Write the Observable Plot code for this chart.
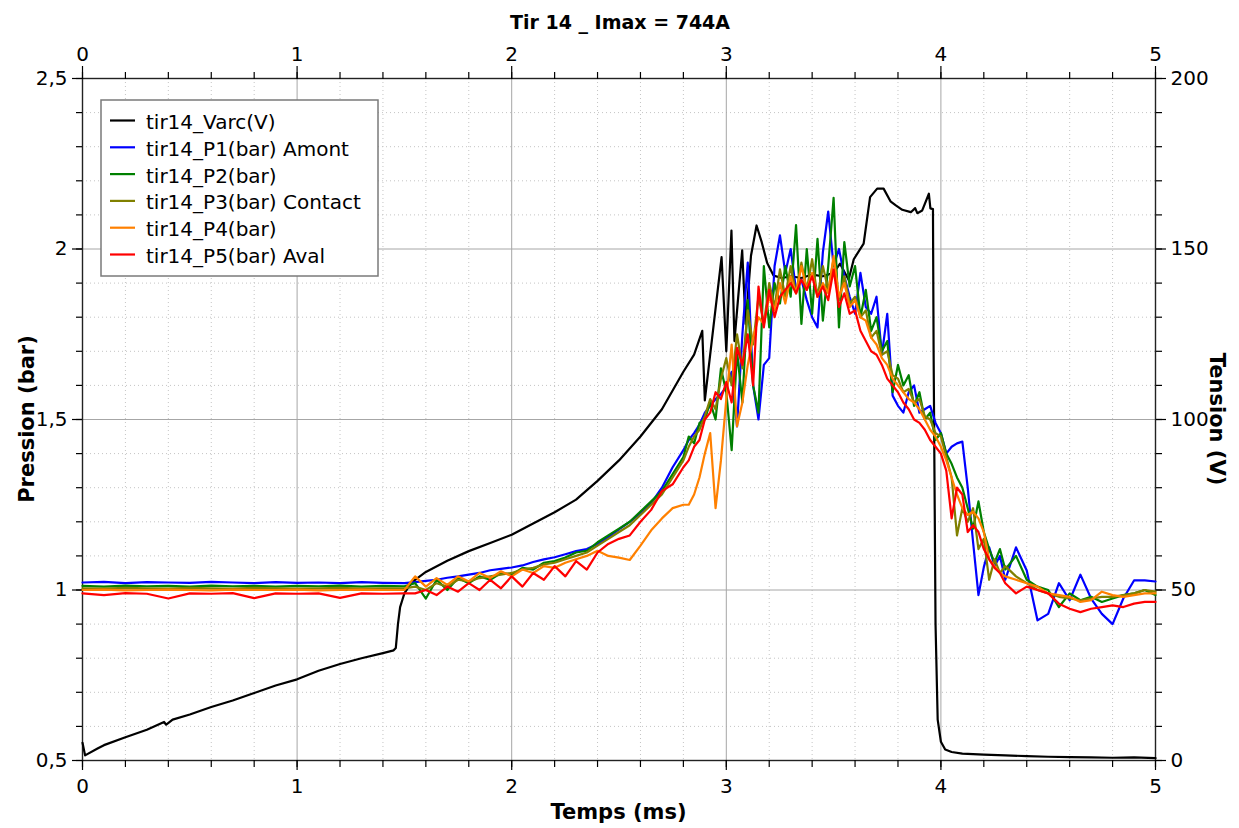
<!DOCTYPE html>
<html><head><meta charset="utf-8">
<script src="https://cdn.jsdelivr.net/npm/d3@7"></script>
<script src="https://cdn.jsdelivr.net/npm/@observablehq/plot@0.6"></script>
<style>
html,body{margin:0;padding:0;background:#fff;}
#chart{position:relative;width:1239px;height:828px;}
</style></head><body><div id="chart"></div>
<script>
// ---- Data ----
const titleText = "Tir 14 _ Imax = 744A";
const xLabel = "Temps (ms)";
const yLabelLeft = "Pression (bar)";
const yLabelRight = "Tension (V)";

const xTicks = [0, 1, 2, 3, 4, 5];
const yTicksLeft = [0.5, 1, 1.5, 2, 2.5];
const yTickLabelsLeft = ["0,5", "1", "1,5", "2", "2,5"];
const yTickLabelsRight = ["0", "50", "100", "150", "200"];

const seriesNames = ["tir14_Varc(V)", "tir14_P1(bar) Amont", "tir14_P2(bar)", "tir14_P3(bar) Contact", "tir14_P4(bar)", "tir14_P5(bar) Aval"];
const seriesColors = ["#000000", "#0000ff", "#008000", "#808000", "#ff8000", "#ff0000"];

// arc voltage (V), own time base (ms)
const tV = [0,0.004,0.012,0.07,0.1,0.2,0.3,0.38,0.39,0.42,0.5,0.6,0.7,0.8,0.9,1.0,1.1,1.2,1.3,1.4,1.45,1.46,1.47,1.48,1.49,1.5,1.52,1.55,1.6,1.7,1.8,1.9,2.0,2.1,2.2,2.3,2.4,2.5,2.6,2.7,2.8,2.85,2.888,2.9,2.978,3.0,3.024,3.038,3.074,3.09,3.115,3.141,3.165,3.19,3.22,3.26,3.3,3.35,3.4,3.45,3.5,3.53,3.57,3.594,3.64,3.67,3.703,3.733,3.765,3.79,3.82,3.86,3.88,3.89,3.913,3.944,3.951,3.963,3.966,3.975,3.985,4.0,4.02,4.05,4.1,4.2,4.3,4.4,4.5,4.6,4.7,4.8,4.9,5.0];
const varc = [5.2,4.0,1.5,3.5,4.5,6.8,9.0,11.3,10.5,12.0,13.5,15.7,17.6,19.8,22.0,23.8,26.3,28.3,30.0,31.5,32.3,33.0,40,45,47,49,51,53,55.3,58.6,61.4,63.8,66.2,69.5,72.8,76.5,82,88,95,103,114,119,126,105.6,147.6,120,155.4,123,149.6,128,148,156.9,152,146,142.2,141.5,142,141.5,142.5,142,143,145.7,141,147,151.6,165.2,167.7,167.7,164,162.8,161.5,160.8,162,160.5,161.3,166.2,161.9,161.7,120,40,12,5.5,3.2,2.5,2.0,1.7,1.5,1.3,1.1,1.0,0.9,0.8,0.9,0.7];

// pressure time base (ms): 0..1.5 by 0.1, 1.55..2.8 by 0.05, 2.825..4.3 by 0.025, 4.35..5 by 0.05
const tP = [].concat(
  d3.range(0, 16).map(i => i * 0.1),
  d3.range(1, 27).map(i => 1.5 + i * 0.05),
  d3.range(1, 61).map(i => 2.8 + i * 0.025),
  d3.range(1, 15).map(i => 4.3 + i * 0.05)
).map(v => +v.toFixed(3));

const p1 = [
  1.022,1.024,1.02,1.023,1.022,1.021,1.024,1.022,1.02,1.023,1.021,1.022,1.02,1.023,1.021,1.02,
  1.023,1.027,1.03,1.036,1.04,1.045,1.05,1.058,1.062,1.066,1.072,1.082,1.09,1.096,1.105,1.114,1.12,1.135,1.155,1.178,1.2,1.225,1.255,1.3,1.36,1.41,
  1.44,1.46,1.485,1.52,1.54,1.56,1.575,1.595,1.64,1.48,
  1.75,1.96,1.60,1.50,1.66,1.68,1.95,2.04,1.93,2.0,
  1.88,1.91,1.85,1.80,1.77,1.99,2.11,1.95,2.0,1.92,
  1.86,1.81,1.93,1.83,1.81,1.86,1.69,1.81,1.57,1.54,
  1.52,1.58,1.60,1.52,1.53,1.54,1.49,1.46,1.40,1.42,
  1.43,1.435,1.30,1.14,0.985,1.067,1.125,1.07,1.10,1.03,
  1.125,1.057,0.911,0.93,1.02,0.97,1.045,0.975,0.93,0.9,0.975,1.028,1.028,1.025
];
const p2 = [
  1.012,1.01,1.013,1.011,1.012,1.01,1.013,1.011,1.012,1.01,1.012,1.011,1.013,1.01,1.012,1.011,
  1.02,0.975,1.03,1.0,1.035,1.02,1.04,1.03,1.05,1.045,1.065,1.06,1.08,1.085,1.095,1.11,1.115,1.14,1.16,1.18,1.2,1.23,1.26,1.29,1.34,1.39,
  1.45,1.43,1.49,1.50,1.55,1.50,1.65,1.58,1.41,1.70,
  1.55,1.85,1.60,1.52,1.95,1.77,1.90,1.84,1.95,1.86,
  2.07,1.78,2.0,1.81,2.03,1.79,1.95,2.15,1.77,2.02,
  1.89,1.95,1.80,1.88,1.76,1.80,1.70,1.73,1.58,1.66,
  1.60,1.63,1.54,1.58,1.50,1.52,1.44,1.46,1.40,1.37,
  1.33,1.30,1.24,1.18,1.26,1.17,1.12,1.08,1.12,1.06,
  1.10,1.03,1.01,1.0,0.95,0.99,0.97,0.98,0.965,0.975,0.985,0.99,1.0,0.985
];
const p3 = [
  1.005,1.004,1.006,1.005,1.004,1.006,1.005,1.004,1.006,1.005,1.004,1.005,1.006,1.004,1.005,1.005,
  1.01,1.0,1.02,1.01,1.03,1.025,1.035,1.04,1.045,1.05,1.06,1.065,1.075,1.08,1.09,1.1,1.11,1.13,1.15,1.17,1.19,1.22,1.25,1.28,1.33,1.38,
  1.42,1.45,1.47,1.51,1.56,1.53,1.62,1.68,1.60,1.75,
  1.65,1.82,1.72,1.86,1.78,1.90,1.83,1.94,1.86,1.95,
  1.87,1.96,1.88,1.97,1.86,1.95,1.88,1.97,1.85,1.92,
  1.84,1.86,1.80,1.82,1.74,1.76,1.69,1.70,1.63,1.62,
  1.58,1.59,1.55,1.56,1.51,1.50,1.46,1.45,1.39,1.33,
  1.16,1.24,1.20,1.24,1.12,1.15,1.03,1.09,1.05,1.07,
  1.04,1.02,1.0,0.99,0.98,0.975,0.97,0.975,0.98,0.98,0.985,0.99,1.0,0.995
];
const p4 = [
  1.0,1.001,0.999,1.0,1.001,1.0,0.999,1.001,1.0,1.0,1.001,0.999,1.0,1.001,1.0,1.0,
  1.04,1.01,1.035,1.015,1.04,1.025,1.05,1.035,1.055,1.04,1.06,1.05,1.07,1.065,1.08,1.09,1.1,1.115,1.1,1.095,1.088,1.13,1.175,1.21,1.24,1.25,
  1.25,1.28,1.33,1.40,1.46,1.24,1.38,1.56,1.72,1.48,
  1.55,1.66,1.74,1.80,1.78,1.86,1.82,1.90,1.84,1.92,
  1.87,1.95,1.88,1.93,1.86,1.90,1.87,1.98,1.86,1.90,
  1.83,1.85,1.80,1.79,1.74,1.72,1.68,1.66,1.62,1.60,
  1.58,1.56,1.55,1.53,1.50,1.47,1.45,1.42,1.38,1.33,
  1.28,1.24,1.22,1.23,1.21,1.17,1.09,1.07,1.05,1.04,
  1.03,1.02,1.01,0.99,0.985,0.98,0.965,0.97,0.995,0.985,0.98,0.985,0.99,0.99
];
const p5 = [
  0.99,0.985,0.991,0.989,0.975,0.99,0.989,0.991,0.976,0.99,0.989,0.99,0.977,0.99,0.989,0.99,
  0.99,1.0,0.985,1.01,0.995,1.02,1.0,1.03,1.005,1.04,1.01,1.05,1.03,1.07,1.04,1.085,1.06,1.11,1.135,1.15,1.16,1.2,1.235,1.29,1.31,1.36,
  1.38,1.42,1.44,1.50,1.52,1.58,1.56,1.61,1.55,1.71,
  1.66,1.75,1.60,1.89,1.77,1.88,1.80,1.86,1.88,1.90,
  1.87,1.91,1.88,1.92,1.86,1.89,1.85,1.94,1.83,1.87,
  1.81,1.82,1.76,1.73,1.70,1.69,1.66,1.62,1.60,1.58,
  1.55,1.53,1.50,1.49,1.47,1.44,1.42,1.40,1.35,1.21,
  1.30,1.28,1.17,1.19,1.17,1.12,1.09,1.065,1.05,1.02,
  0.99,1.01,1.0,0.99,0.96,0.945,0.935,0.945,0.95,0.955,0.95,0.96,0.965,0.965
];
const pressureSeries = [p1, p2, p3, p4, p5];

// ---- Build tables ----
const toLeft = v => 0.5 + v / 100; // right axis 0..200 V  <->  left 0.5..2.5 bar
const varcRows = tV.map((t, i) => ({t, y: toLeft(varc[i])}));
const pRows = [];
pressureSeries.forEach((arr, s) => arr.forEach((p, i) => pRows.push({t: tP[i], p, series: seriesNames[s + 1]})));

const minorX = d3.range(0, 26).map(i => +(i * 0.2).toFixed(1));
const minorY = d3.range(0, 21).map(i => +(0.5 + i * 0.1).toFixed(1));
const minorXgrid = minorX.filter(v => !xTicks.includes(v));
const minorYgrid = minorY.filter(v => !yTicksLeft.includes(v));

const axisStyle = {stroke: "#000", strokeWidth: 1.2, label: null};

const plot = Plot.plot({
  width: 1239, height: 828,
  marginLeft: 82, marginRight: 84, marginTop: 78, marginBottom: 68,
  style: {fontFamily: "'DejaVu Sans', Verdana, sans-serif", fontSize: "20px", background: "#fff", color: "#000"},
  x: {domain: [0, 5]},
  y: {domain: [0.5, 2.5]},
  color: {domain: seriesNames.slice(1), range: seriesColors.slice(1)},
  marks: [
    Plot.gridX({ticks: minorXgrid, stroke: "#c4c4c4", strokeOpacity: 1, strokeDasharray: "1,3"}),
    Plot.gridY({ticks: minorYgrid, stroke: "#c4c4c4", strokeOpacity: 1, strokeDasharray: "1,3"}),
    Plot.gridX({ticks: [1, 2, 3, 4], stroke: "#a6a6a6", strokeOpacity: 1}),
    Plot.gridY({ticks: [1, 1.5, 2], stroke: "#a6a6a6", strokeOpacity: 1}),
    Plot.frame({stroke: "#222", strokeWidth: 1.4}),
    // bottom
    Plot.axisX({...axisStyle, anchor: "bottom", ticks: minorX, tickSize: 7, tickFormat: () => ""}),
    Plot.axisX({...axisStyle, anchor: "bottom", ticks: xTicks, tickSize: 10, tickPadding: 8, tickFormat: d => String(d)}),
    // top
    Plot.axisX({...axisStyle, anchor: "top", ticks: minorX, tickSize: 7, tickFormat: () => ""}),
    Plot.axisX({...axisStyle, anchor: "top", ticks: xTicks, tickSize: 13, tickPadding: 5, tickFormat: d => String(d)}),
    // left
    Plot.axisY({...axisStyle, anchor: "left", ticks: minorY, tickSize: 6, tickFormat: () => ""}),
    Plot.axisY({...axisStyle, anchor: "left", ticks: yTicksLeft, tickSize: 10, tickPadding: 5, tickFormat: d => yTickLabelsLeft[yTicksLeft.indexOf(d)]}),
    // right
    Plot.axisY({...axisStyle, anchor: "right", ticks: minorY, tickSize: 6, tickFormat: () => ""}),
    Plot.axisY({...axisStyle, anchor: "right", ticks: yTicksLeft, tickSize: 10, tickPadding: 5, tickFormat: d => yTickLabelsRight[yTicksLeft.indexOf(d)]}),
    // data
    Plot.line(varcRows, {x: "t", y: "y", stroke: seriesColors[0], strokeWidth: 2.2, curve: "linear"}),
    Plot.line(pRows, {x: "t", y: "p", z: "series", stroke: "series", strokeWidth: 2.2, curve: "linear"})
  ]
});

const svg = d3.select(plot);
// titles
svg.append("text").attr("x", 620).attr("y", 29).attr("text-anchor", "middle")
  .attr("font-weight", "bold").attr("font-size", 19).text(titleText);
svg.append("text").attr("x", 618.5).attr("y", 819).attr("text-anchor", "middle")
  .attr("font-weight", "bold").attr("font-size", 21).text(xLabel);
svg.append("text").attr("transform", "translate(34,419) rotate(-90)").attr("text-anchor", "middle")
  .attr("font-weight", "bold").attr("font-size", 21).text(yLabelLeft);
svg.append("text").attr("transform", "translate(1210,419) rotate(90)").attr("text-anchor", "middle")
  .attr("font-weight", "bold").attr("font-size", 21).text(yLabelRight);

// legend
const lg = svg.append("g").attr("text-anchor", "start");
lg.append("rect").attr("x", 101).attr("y", 100).attr("width", 277).attr("height", 176)
  .attr("fill", "#fff").attr("stroke", "#7a7a7a").attr("stroke-width", 1.5);
seriesNames.forEach((name, i) => {
  const base = 129 + i * 26.8;
  lg.append("line").attr("x1", 110).attr("x2", 135).attr("y1", base - 8.5).attr("y2", base - 8.5)
    .attr("stroke", seriesColors[i]).attr("stroke-width", 2.2);
  lg.append("text").attr("x", 146).attr("y", base).attr("text-anchor", "start").attr("font-size", 20).text(name);
});

document.getElementById("chart").appendChild(plot);
</script></body></html>
